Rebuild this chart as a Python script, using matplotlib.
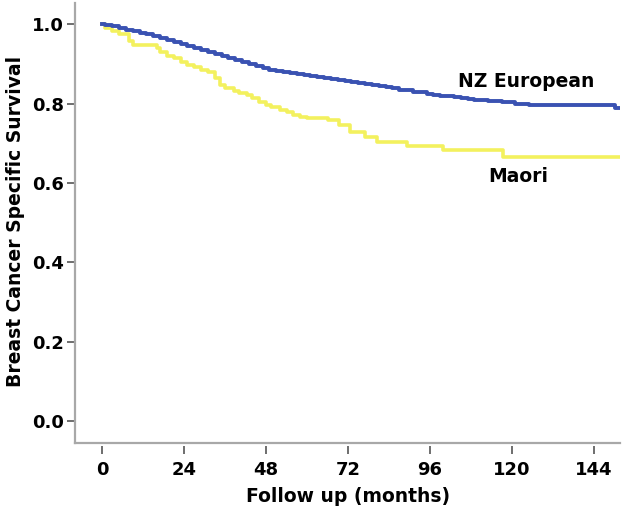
import matplotlib
matplotlib.use("Agg")
import matplotlib.pyplot as plt

plt.rcParams.update({
    "font.family": ["DejaVu Sans"],
    "font.weight": "bold",
    "font.size": 13
})

# ----------------------------------------------------
# Data
# ----------------------------------------------------

euro_t = [0, 1, 3, 5, 7, 9, 11, 13, 15, 17, 19, 21, 23, 25, 27, 29, 31, 33, 35, 37,
          39, 41, 43, 45, 47, 49, 51, 53, 55, 57, 59, 61, 63, 65, 67, 69, 71, 73, 75,
          77, 79, 81, 83, 85, 87, 89, 91, 93, 95, 97, 99, 101, 103, 105, 107, 109,
          111, 113, 115, 117, 119, 121, 123, 125, 150, 152]
euro_s = [1.0, 0.997, 0.994, 0.990, 0.986, 0.982, 0.978, 0.974, 0.969, 0.964, 0.959,
          0.955, 0.950, 0.945, 0.940, 0.935, 0.930, 0.925, 0.920, 0.915, 0.910,
          0.905, 0.900, 0.895, 0.889, 0.884, 0.881, 0.879, 0.877, 0.874, 0.871,
          0.869, 0.867, 0.865, 0.862, 0.859, 0.856, 0.853, 0.851, 0.848, 0.846,
          0.843, 0.841, 0.838, 0.835, 0.833, 0.830, 0.828, 0.825, 0.822, 0.820,
          0.818, 0.816, 0.814, 0.812, 0.810, 0.808, 0.807, 0.806, 0.805, 0.803,
          0.800, 0.798, 0.797, 0.789, 0.789]

maori_t = [0, 1, 3, 5, 8, 9, 16, 17, 19, 21, 23, 25, 27, 29, 31, 33, 34.5, 36, 38.5, 40,
           42.5, 44, 46, 48, 49.5, 52, 54, 56, 58, 60, 66, 69.5, 72.6, 77, 80.4, 89.2,
           99.9, 117.4, 152]
maori_s = [1.0, 0.99, 0.982, 0.975, 0.958, 0.947, 0.94, 0.93, 0.92, 0.914, 0.905,
           0.898, 0.892, 0.885, 0.879, 0.864, 0.846, 0.84, 0.831, 0.826, 0.821,
           0.815, 0.804, 0.797, 0.791, 0.783, 0.778, 0.771, 0.767, 0.763, 0.758,
           0.746, 0.729, 0.716, 0.704, 0.693, 0.684, 0.666, 0.666]

x_ticks = [0, 24, 48, 72, 96, 120, 144]
y_ticks = [0.0, 0.2, 0.4, 0.6, 0.8, 1.0]

fig = plt.figure(figsize=(6.25, 5.11), dpi=100)
ax = fig.add_axes([0.12, 0.133, 0.872, 0.861])

ax.step(maori_t, maori_s, where="post", color="#f3f15e", lw=2.6)
ax.step(euro_t, euro_s, where="post", color="#3a52b2", lw=2.8)

ax.set_xlim(-7.9, 151.6)
ax.set_ylim(-0.055, 1.053)

ax.set_xticks(x_ticks)
ax.set_yticks(y_ticks)
ax.set_yticklabels([f"{v:.1f}" for v in y_ticks])

# ----------------------------------------------------
# Axes style (SPSS look)
# ----------------------------------------------------

for s in ["top", "right"]:
    ax.spines[s].set_visible(False)

ax.spines["left"].set_color("#a8a8a8")
ax.spines["left"].set_linewidth(1.6)
ax.spines["bottom"].set_visible(False)
# x ticks sit a little below the axis line
ax.spines["bottom"].set_position(("outward", 2))
ax.plot([0, 1], [0, 0], transform=ax.transAxes, color="#a8a8a8", lw=1.6, clip_on=False)

ax.tick_params(axis="x", direction="out", length=6, width=1.2, color="#555555", pad=5)
ax.tick_params(axis="y", direction="out", length=6, width=1.2, color="#555555", pad=2)

fig.text(348 / 625, 1 - 496 / 511, "Follow up (months)", ha="center", va="center",
         fontsize=13.5, weight="bold")
fig.text(16 / 625, 1 - 221 / 511, "Breast Cancer Specific Survival", ha="center",
         va="center", rotation=90, fontsize=13.5, weight="bold")

ax.text(124, 0.856, "NZ European", ha="center", va="center", fontsize=13.5, weight="bold")
ax.text(121.8, 0.615, "Maori", ha="center", va="center", fontsize=13.5, weight="bold")

fig.savefig("out.png", dpi=100)
